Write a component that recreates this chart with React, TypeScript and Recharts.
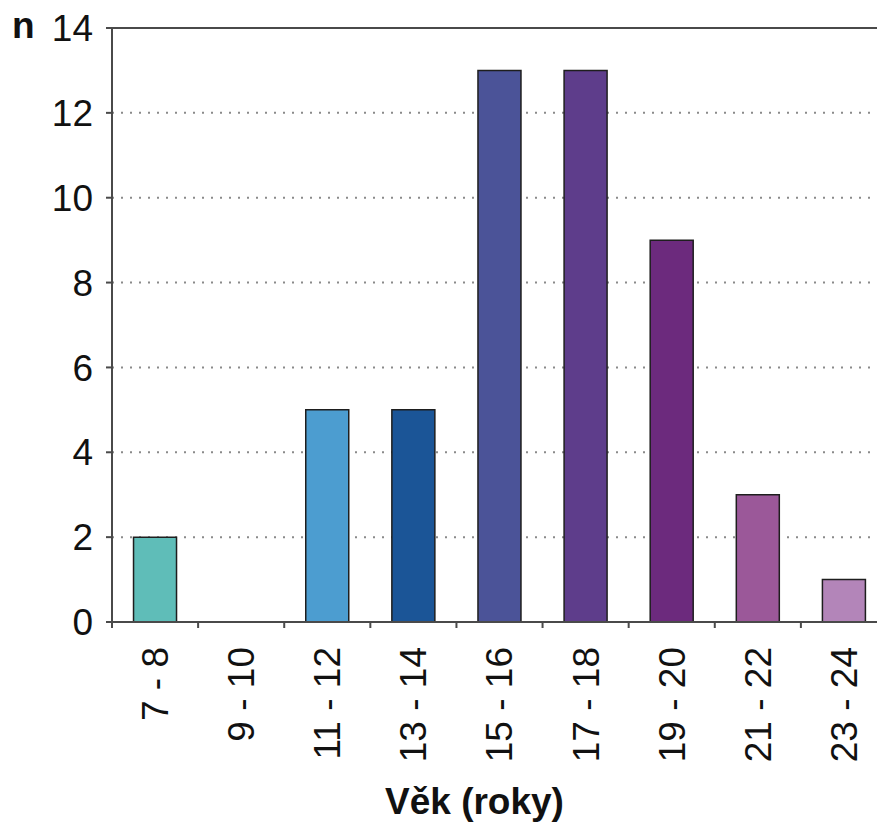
import React from 'react';
import {
  BarChart,
  Bar,
  Cell,
  XAxis,
  YAxis,
  CartesianGrid,
  ReferenceLine,
  Label,
} from 'recharts';

// age groups and number of people in each
const ageGroups = ['7 - 8', '9 - 10', '11 - 12', '13 - 14', '15 - 16', '17 - 18', '19 - 20', '21 - 22', '23 - 24'];
const counts = [2, 0, 5, 5, 13, 13, 9, 3, 1];
const barColors = ['#5fbdb8', '#5fbdb8', '#4c9dd0', '#1b5597', '#4b5398', '#5e3d8b', '#6c2a7d', '#9b5899', '#b385b9'];
const yTicks = [0, 2, 4, 6, 8, 10, 12, 14];

const data = ageGroups.map((group, i) => ({ group, count: counts[i] }));

const FONT = '"Liberation Sans", Arial, sans-serif';
const FONT_SIZE = 37;
const AXIS_COLOR = '#4a4a4a';

// rotated category label + tick mark on the left edge of the band
const AgeTick = (props: any) => {
  const { x, y, payload } = props;
  const half = payload?.offset ?? 0;
  return (
    <g>
      <line x1={x - half} y1={y} x2={x - half} y2={y + 6} stroke={AXIS_COLOR} strokeWidth={2} />
      <text
        x={x}
        y={y + 25}
        dy="0.35em"
        transform={`rotate(-90, ${x}, ${y + 25})`}
        textAnchor="end"
        fontSize={FONT_SIZE}
        fontFamily={FONT}
        fill="#111"
      >
        {payload.value}
      </text>
    </g>
  );
};

export default function App() {
  return (
    <div style={{ position: 'absolute', left: 0, top: 0, width: 877, height: 823, overflow: 'hidden', background: '#fff' }}>
      <BarChart
        width={887}
        height={823}
        data={data}
        margin={{ top: 28, right: 0, bottom: 0, left: 0 }}
        barCategoryGap="25%"
      >
        <CartesianGrid
          horizontal
          vertical={false}
          stroke="#8a8a8a"
          strokeWidth={2}
          strokeDasharray="2 7"
        />
        <ReferenceLine y={14} stroke={AXIS_COLOR} strokeWidth={2} />
        <XAxis
          dataKey="group"
          height={201}
          tickLine={false}
          tickSize={0}
          tickMargin={0}
          tick={<AgeTick />}
          interval={0}
          axisLine={{ stroke: AXIS_COLOR, strokeWidth: 2 }}
        >
          <Label
            value="Věk (roky)"
            position="insideBottom"
            offset={9}
            dx={-25}
            style={{ fontFamily: FONT, fontSize: FONT_SIZE, fontWeight: 'bold', fill: '#111' }}
          />
        </XAxis>
        <YAxis
          width={112}
          domain={[0, 14]}
          ticks={yTicks}
          interval={0}
          tickSize={6}
          tickMargin={13}
          tick={{ fontSize: FONT_SIZE, fontFamily: FONT, fill: '#111' }}
          tickLine={{ stroke: AXIS_COLOR, strokeWidth: 2 }}
          axisLine={{ stroke: AXIS_COLOR, strokeWidth: 2 }}
        >
          <Label
            content={({ viewBox }: any) => (
              <text
                x={viewBox.x + 12}
                y={viewBox.y + 10}
                fontSize={FONT_SIZE}
                fontWeight="bold"
                fontFamily={FONT}
                fill="#111"
              >
                n
              </text>
            )}
          />
        </YAxis>
        <Bar dataKey="count" stroke="#1e1e1e" strokeWidth={1.5} isAnimationActive={false}>
          {data.map((d, i) => (
            <Cell key={d.group} fill={barColors[i]} />
          ))}
        </Bar>
      </BarChart>
    </div>
  );
}
